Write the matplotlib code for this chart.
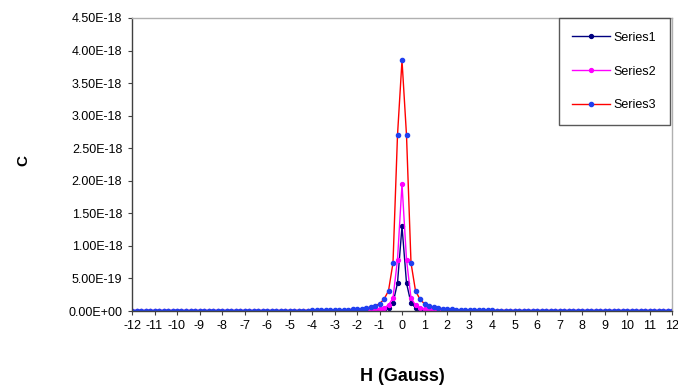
import matplotlib.pyplot as plt
import numpy as np
from matplotlib.ticker import FuncFormatter, MultipleLocator

plt.rcParams['font.family'] = ['Liberation Sans', 'DejaVu Sans']
plt.rcParams['axes.unicode_minus'] = False

# field values, -12 .. 12 Gauss in 0.2 steps
h = np.round(np.arange(-12, 12.0001, 0.2), 1)

# half profiles (H = 0, 0.2, ... 12), units of 1e-18
s1_half = [1.30, 0.43, 0.12, 0.05, 0.03, 0.02, 0.014, 0.010, 0.008, 0.006,
           0.005, 0.004, 0.0035, 0.003, 0.0027, 0.0024, 0.0021, 0.0019, 0.0017, 0.0015,
           0.0014, 0.0013, 0.0012, 0.0011, 0.0010, 0.0010, 0.0009, 0.0009, 0.0008, 0.0008,
           0.0007, 0.0007, 0.0007, 0.0006, 0.0006, 0.0006, 0.0005, 0.0005, 0.0005, 0.0005,
           0.0004, 0.0004, 0.0004, 0.0004, 0.0004, 0.0003, 0.0003, 0.0003, 0.0003, 0.0003,
           0.0003, 0.0003, 0.0002, 0.0002, 0.0002, 0.0002, 0.0002, 0.0002, 0.0002, 0.0002,
           0.0002]
s2_half = [1.95, 0.79, 0.20, 0.09, 0.05, 0.035, 0.025, 0.018, 0.014, 0.011,
           0.009, 0.0075, 0.0065, 0.0056, 0.0049, 0.0043, 0.0038, 0.0034, 0.0031, 0.0028,
           0.0025, 0.0023, 0.0021, 0.0019, 0.0018, 0.0016, 0.0015, 0.0014, 0.0013, 0.0012,
           0.0012, 0.0011, 0.0010, 0.0010, 0.0009, 0.0009, 0.0008, 0.0008, 0.0008, 0.0007,
           0.0007, 0.0007, 0.0006, 0.0006, 0.0006, 0.0006, 0.0005, 0.0005, 0.0005, 0.0005,
           0.0005, 0.0004, 0.0004, 0.0004, 0.0004, 0.0004, 0.0004, 0.0004, 0.0003, 0.0003,
           0.0003]
s3_half = [3.85, 2.70, 0.74, 0.31, 0.18, 0.11, 0.08, 0.06, 0.045, 0.036,
           0.030, 0.025, 0.021, 0.018, 0.016, 0.014, 0.012, 0.011, 0.010, 0.009,
           0.008, 0.0075, 0.007, 0.0065, 0.006, 0.0055, 0.005, 0.0047, 0.0044, 0.0041,
           0.0038, 0.0036, 0.0034, 0.0032, 0.0030, 0.0028, 0.0027, 0.0025, 0.0024, 0.0023,
           0.0022, 0.0021, 0.0020, 0.0019, 0.0018, 0.0018, 0.0017, 0.0016, 0.0016, 0.0015,
           0.0015, 0.0014, 0.0014, 0.0013, 0.0013, 0.0012, 0.0012, 0.0012, 0.0011, 0.0011,
           0.0011]

series1 = np.array(s1_half[:0:-1] + s1_half) * 1e-18
series2 = np.array(s2_half[:0:-1] + s2_half) * 1e-18
series3 = np.array(s3_half[:0:-1] + s3_half) * 1e-18

fig = plt.figure(figsize=(6.78, 3.90), dpi=100)
ax = fig.add_axes([132/678, 1 - 311/390, 540/678, 293/390])

ax.plot(h, series1, color='#000080', marker='o', markersize=2.8, linewidth=1, label='Series1')
ax.plot(h, series2, color='#ff00ff', marker='o', markersize=2.8, linewidth=1, label='Series2')
ax.plot(h, series3, color='#ff0000', marker='o', markersize=3.0, linewidth=1,
        markerfacecolor='#2040f0', markeredgecolor='#2040f0', label='Series3')

ax.set_xlim(-12, 12)
ax.set_ylim(0, 4.5e-18)
ax.xaxis.set_major_locator(MultipleLocator(1))
ax.yaxis.set_major_locator(MultipleLocator(0.5e-18))

def sci(v, pos):
    s = '%.2E' % v
    mant, exp = s.split('E')
    return '%sE%s%02d' % (mant, exp[0], abs(int(exp)))

ax.yaxis.set_major_formatter(FuncFormatter(sci))
ax.tick_params(axis='both', labelsize=9, length=3, width=0.8, colors='#404040', labelcolor='black')
ax.tick_params(axis='y', pad=4)

for side in ['left', 'bottom']:
    ax.spines[side].set_color('#404040')
    ax.spines[side].set_linewidth(1)
for side in ['top', 'right']:
    ax.spines[side].set_color('#b0b0b0')
    ax.spines[side].set_linewidth(1)

ax.set_xlabel('H (Gauss)', fontsize=13, fontweight='bold', labelpad=26)
fig.text(23/678, 1 - 160/390, 'C', fontsize=11, fontweight='bold', rotation=90,
         ha='center', va='center')

leg = ax.legend(loc='upper right', bbox_to_anchor=(538/540, 1.0), fontsize=9,
                frameon=True, fancybox=False, labelspacing=1.75, handlelength=3.0,
                borderpad=1.1, handletextpad=0.3, borderaxespad=0)
leg.get_frame().set_edgecolor('#303030')
leg.get_frame().set_linewidth(1)

fig.savefig('out.png', dpi=100)
